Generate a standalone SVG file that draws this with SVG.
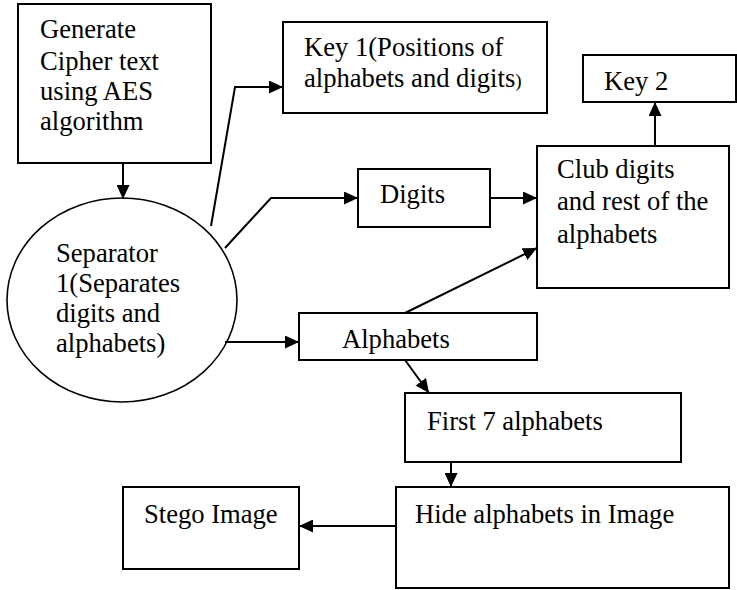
<svg xmlns="http://www.w3.org/2000/svg" width="737" height="590" viewBox="0 0 737 590">
<style>
.box{fill:#fff;stroke:#000;stroke-width:2}
.ell{fill:#fff;stroke:#000;stroke-width:1.6}
.lbl{font-family:"Liberation Serif","Times New Roman",serif;font-size:26.6px;fill:#000}
.con{fill:none;stroke:#000;stroke-width:2}
</style>
<defs>
<marker id="ah" markerUnits="userSpaceOnUse" markerWidth="14" markerHeight="13" refX="14" refY="6.5" orient="auto">
<path d="M0,0 L14,6.5 L0,13 z" fill="#000"/>
</marker>
</defs>
<rect width="737" height="590" fill="#fff"/>
<g id="gen">
<rect class="box" x="18" y="4" width="193" height="159"/>
<text class="lbl" x="40" y="38">Generate</text>
<text class="lbl" x="40" y="70">Cipher text</text>
<text class="lbl" x="40" y="100">using AES</text>
<text class="lbl" x="40" y="130">algorithm</text>
</g>
<g id="sep">
<ellipse class="ell" cx="122" cy="300" rx="115" ry="102"/>
<text class="lbl" x="56" y="262">Separator</text>
<text class="lbl" x="56" y="292">1(Separates</text>
<text class="lbl" x="56" y="322">digits and</text>
<text class="lbl" x="56" y="352">alphabets)</text>
</g>
<g id="key1">
<rect class="box" x="283" y="22" width="264" height="91"/>
<text class="lbl" x="304" y="56">Key 1(Positions of</text>
<text class="lbl" x="304" y="87">alphabets and digits<tspan font-size="19">)</tspan></text>
</g>
<g id="key2">
<rect class="box" x="583" y="55" width="153" height="47"/>
<text class="lbl" x="604" y="90">Key 2</text>
</g>
<g id="digits">
<rect class="box" x="358" y="169" width="132" height="58"/>
<text class="lbl" x="380" y="203">Digits</text>
</g>
<g id="club">
<rect class="box" x="537" y="146" width="192" height="142"/>
<text class="lbl" x="557" y="178">Club digits</text>
<text class="lbl" x="557" y="210">and rest of the</text>
<text class="lbl" x="557" y="243">alphabets</text>
</g>
<g id="alpha">
<rect class="box" x="299" y="313" width="238" height="47"/>
<text class="lbl" x="342" y="348">Alphabets</text>
</g>
<g id="first7">
<rect class="box" x="405" y="393" width="276" height="69"/>
<text class="lbl" x="427" y="430">First 7 alphabets</text>
</g>
<g id="hide">
<rect class="box" x="396" y="487" width="333" height="101"/>
<text class="lbl" x="415" y="523">Hide alphabets in Image</text>
</g>
<g id="stego">
<rect class="box" x="123" y="487" width="176" height="82"/>
<text class="lbl" x="144" y="523">Stego Image</text>
</g>
<g id="connectors">
<path class="con" d="M123,163 L123,199" marker-end="url(#ah)"/>
<path class="con" d="M211,226 L235,87 L283,87" marker-end="url(#ah)"/>
<path class="con" d="M225,248 L271,198 L358,198" marker-end="url(#ah)"/>
<path class="con" d="M490,198 L537,198" marker-end="url(#ah)"/>
<path class="con" d="M225,342 L299,342" marker-end="url(#ah)"/>
<path class="con" d="M405,313 L537,248" marker-end="url(#ah)"/>
<path class="con" d="M655,146 L655,102" marker-end="url(#ah)"/>
<path class="con" d="M405,360 L429,393" marker-end="url(#ah)"/>
<path class="con" d="M451,462 L451,487" marker-end="url(#ah)"/>
<path class="con" d="M396,526 L299,526" marker-end="url(#ah)"/>
</g>
</svg>
